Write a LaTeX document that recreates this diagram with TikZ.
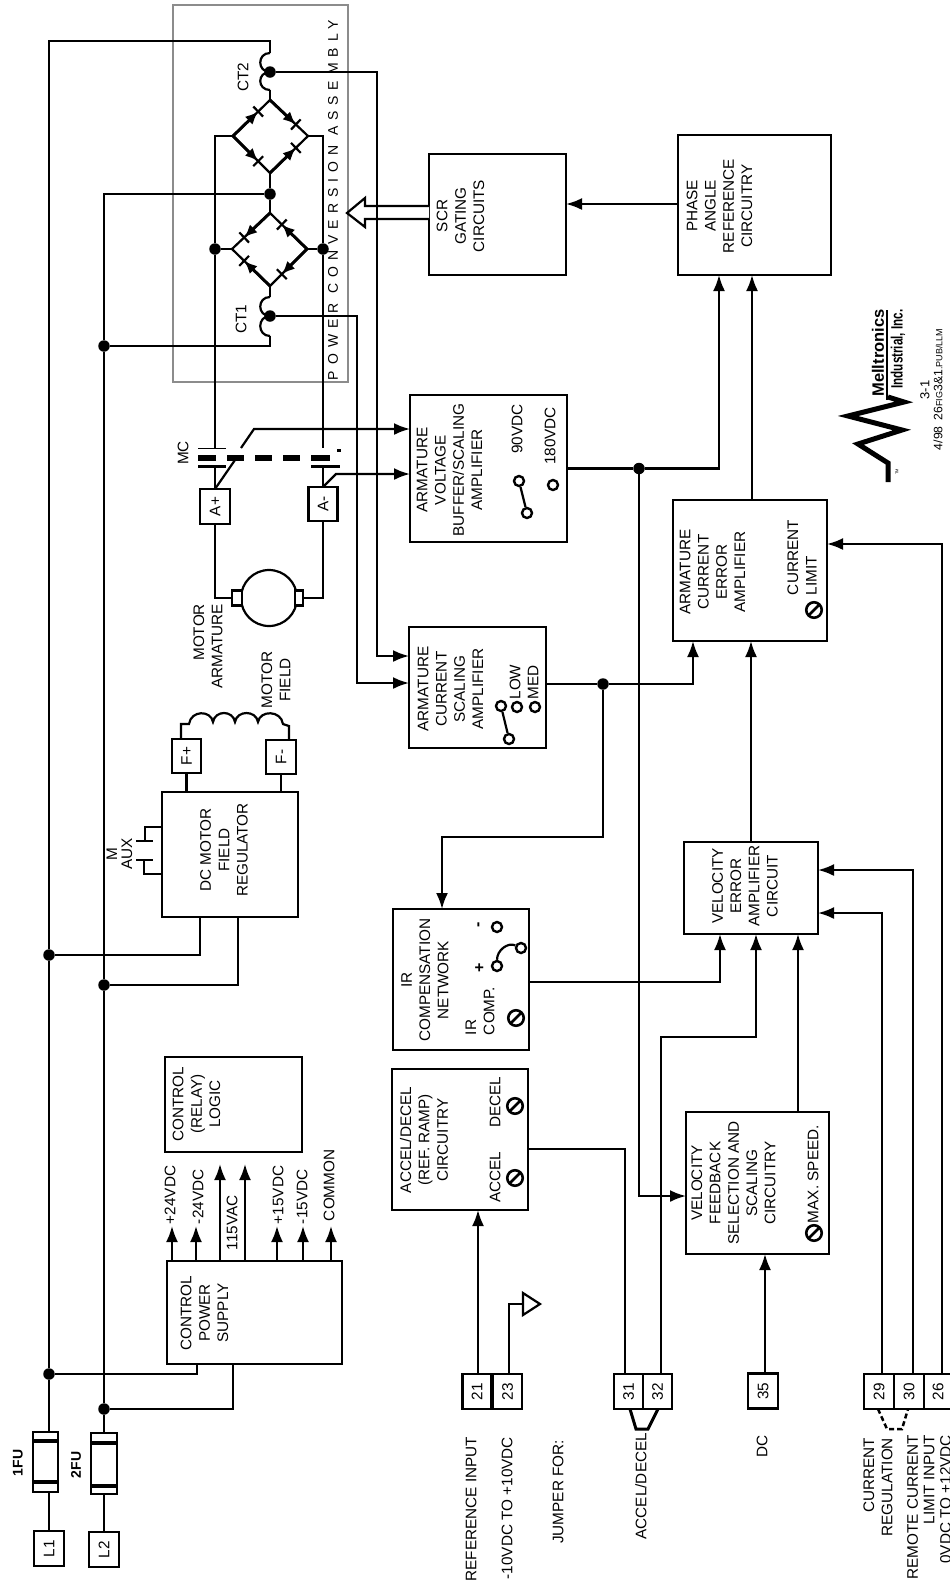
\documentclass[tikz,border=0pt]{standalone}
\usepackage{fontspec}
\setmainfont{Liberation Sans}
\newfontfamily\spacedfont[LetterSpace=42.5]{Liberation Sans}
\usetikzlibrary{arrows.meta, calc}

\tikzset{
  wire/.style={line width=2.2pt},
  arr/.style={line width=2.2pt, -{Latex[length=16pt,width=12pt]}},
  blk/.style={draw, line width=2.6pt, inner sep=0pt, outer sep=0pt},
  txt/.style={rotate=90, align=center, inner sep=0pt, outer sep=0pt, font=\fontsize{15.3}{18.3}\selectfont},
  term/.style={blk, minimum width=30pt, minimum height=35pt, fill=white, font=\fontsize{15.3}{18}\selectfont},
  jdot/.style={circle, fill=black, inner sep=0pt, minimum size=11.5pt},
  ring/.style={circle, draw, line width=2.4pt, fill=white, inner sep=0pt, minimum size=10pt},
  potm/.style={circle, draw, line width=2.6pt, inner sep=0pt, minimum size=15.5pt,
    path picture={\draw[line width=2.6pt] (path picture bounding box.north east) -- (path picture bounding box.south west);}},
}
\newcommand{\rt}[1]{\rotatebox{90}{#1}}
\newcommand{\scrleg}[2]{
  \draw[wire] (#1) -- (#2);
  \draw[line width=3pt, -{Latex[length=13pt,width=11pt]}] (#1) -- ($(#1)!0.68!(#2)$);
  \draw[wire] ($(#1)!0.68!(#2)!7pt!90:(#2)$) -- ($(#1)!0.68!(#2)!7pt!-90:(#2)$);
}

\begin{document}
\begin{tikzpicture}[x=1pt, y=-1pt]
  \useasboundingbox (0,0) rectangle (950,1591);

  % Power conversion assembly
  \draw[line width=2.5pt, color=black!45] (173,5) rectangle (348,382);
  \node[txt, anchor=west, font=\fontsize{14}{16}\spacedfont] (pcaText) at (333,380) {POWER CONVERSION ASSEMBLY};

  % Blocks
  \node[blk, minimum width=137pt, minimum height=121pt] (scrBox) at (497.5,214.5) {};
  \node[blk, minimum width=153pt, minimum height=140pt] (phase) at (754.5,205) {};
  \node[blk, minimum width=157pt, minimum height=147pt] (voltAmp) at (488.5,468.5) {};
  \node[blk, minimum width=137pt, minimum height=121pt] (curAmp) at (477.5,687.5) {};
  \node[blk, minimum width=154pt, minimum height=141pt] (errAmp) at (750,570.5) {};
  \node[blk, minimum width=134pt, minimum height=92pt] (velAmp) at (751,888) {};
  \node[blk, minimum width=136pt, minimum height=141pt] (irNet) at (461,979.5) {};
  \node[blk, minimum width=136pt, minimum height=141pt] (ramp) at (460,1139.5) {};
  \node[blk, minimum width=143pt, minimum height=142pt] (fdbk) at (757.5,1183) {};
  \node[blk, minimum width=137pt, minimum height=95pt] (logic) at (233.5,1104.5) {};
  \node[blk, minimum width=175pt, minimum height=103pt] (supply) at (254.5,1312.5) {};
  \node[blk, minimum width=136pt, minimum height=125pt] (regul) at (230,854.5) {};

  \node[txt] (scrText) at (460.5,216) {SCR\\GATING\\CIRCUITS};
  \node[txt] (phaseText) at (719.5,206) {PHASE\\ANGLE\\REFERENCE\\CIRCUITRY};
  \node[txt] (voltText) at (449.5,470) {ARMATURE\\VOLTAGE\\BUFFER/SCALING\\AMPLIFIER};
  \node[txt] (curText) at (450.5,689) {ARMATURE\\CURRENT\\SCALING\\AMPLIFIER};
  \node[txt] (errText) at (712.5,572) {ARMATURE\\CURRENT\\ERROR\\AMPLIFIER};
  \node[txt] (velText) at (745,886) {VELOCITY\\ERROR\\AMPLIFIER\\CIRCUIT};
  \node[txt] (irText) at (425,980) {IR\\COMPENSATION\\NETWORK};
  \node[txt] (rampText) at (424,1140) {ACCEL/DECEL\\(REF. RAMP)\\CIRCUITRY};
  \node[txt] (fdbkText) at (733.5,1183) {VELOCITY\\FEEDBACK\\SELECTION AND\\SCALING\\CIRCUITRY};
  \node[txt] (logicText) at (196.5,1104) {CONTROL\\(RELAY)\\LOGIC};
  \node[txt] (supplyText) at (204.5,1313) {CONTROL\\POWER\\SUPPLY};
  \node[txt] (regulText) at (224,850) {DC MOTOR\\FIELD\\REGULATOR};

  % Controls inside the blocks
  \node[txt] (lblNinety) at (517,429) {90VDC};
  \node[txt] (lblOneEighty) at (550,436) {180VDC};
  \node[ring] (vsA) at (519,481) {};
  \node[ring] (vsB) at (527,513) {};
  \node[ring] (vsC) at (553,485) {};
  \draw[wire] (vsA) -- (vsB);
  \node[txt] (lblLow) at (515,682) {LOW};
  \node[txt] (lblMed) at (533,682) {MED};
  \node[ring] (csA) at (501,706) {};
  \node[ring] (csB) at (509,739) {};
  \node[ring] (csC) at (517,707) {};
  \node[ring] (csD) at (535,707) {};
  \draw[wire] (csA) -- (csB);
  \node[txt, anchor=west, align=left] (lblLimit) at (802,595) {CURRENT\\LIMIT};
  \node[potm] (potLimit) at (814,610) {};
  \node[txt, anchor=west] (lblMax) at (813,1223) {MAX. SPEED.};
  \node[potm] (potMax) at (814,1233) {};
  \node[txt, anchor=west, align=left] (lblComp) at (480,1035) {IR\\COMP.};
  \node[potm] (potComp) at (516,1018) {};
  \node[txt, font=\fontsize{16}{18}\bfseries] (lblPlus) at (480,968) {+};
  \node[txt, font=\fontsize{16}{18}\bfseries] (lblMinus) at (480,925) {-};
  \node[ring] (irA) at (497,927) {};
  \node[ring] (irB) at (521,948) {};
  \node[ring] (irC) at (497,966) {};
  \draw[wire] (irC) .. controls (497,950) and (508,942) .. (irB);
  \node[txt] (lblAccel) at (495,1177) {ACCEL};
  \node[txt] (lblDecel) at (495,1102) {DECEL};
  \node[potm] (potAccel) at (515,1178) {};
  \node[potm] (potDecel) at (515,1106) {};

  % Main lines
  \node[term] (lineA) at (49,1548.5) {\rt{L1}};
  \node[term] (lineB) at (104,1549.5) {\rt{L2}};
  \node[jdot] (jMainA) at (49,1374) {};
  \node[jdot] (jMainB) at (104,1409) {};
  \node[jdot] (jFieldA) at (49,955) {};
  \node[jdot] (jFieldB) at (104,985) {};
  \node[jdot] (jCtOne) at (104,346) {};
  \coordinate (ctTwoTop) at (270,53);
  \coordinate (ctTwoBot) at (270,90);
  \coordinate (ctOneTop) at (270,297);
  \coordinate (ctOneBot) at (270,336);
  \node[jdot] (tapTwo) at (270,72) {};
  \node[jdot] (tapOne) at (270,316) {};
  \node[jdot] (jBridge) at (270,194) {};
  \draw[wire] (lineA.north) -- (jMainA) -- (jFieldA) -- (49,41) -| (ctTwoTop);
  \draw[wire] (lineB.north) -- (jMainB) -- (jFieldB) -- (jCtOne) |- (jBridge);
  \draw[wire] (jCtOne) -| (ctOneBot);
  \draw[wire] (jMainA) -| (supply.south -| 197,0);
  \draw[wire] (jMainB) -| (supply.south -| 233,0);
  \draw[wire] (jFieldA) -| (regul.south -| 200,0);
  \draw[wire] (jFieldB) -| (regul.south -| 238,0);

  % Fuses
  \node[blk, minimum width=25pt, minimum height=60pt, fill=white] (fuseA) at (45.5,1462) {};
  \node[blk, minimum width=26pt, minimum height=61pt, fill=white] (fuseB) at (104,1463.5) {};
  \draw[line width=3.5pt] (33,1441) -- (58,1441) (33,1482) -- (58,1482);
  \draw[line width=3.5pt] (91,1443) -- (117,1443) (91,1486) -- (117,1486);
  \node[txt, font=\fontsize{14}{16}\bfseries] (lblFuseA) at (18,1463) {1FU};
  \node[txt, font=\fontsize{14}{16}\bfseries] (lblFuseB) at (76,1465) {2FU};

  % Current transformers
  \draw[wire] (ctTwoTop) .. controls (257,53) and (257,72) .. (tapTwo.center) .. controls (257,72) and (257,90) .. (ctTwoBot);
  \draw[wire] (ctOneTop) .. controls (257,297) and (257,316) .. (tapOne.center) .. controls (257,316) and (257,336) .. (ctOneBot);
  \node[txt] (lblCtTwo) at (243,77) {CT2};
  \node[txt] (lblCtOne) at (241,319) {CT1};

  % SCR bridge
  \coordinate (brTopA) at (270,100);
  \coordinate (brLeftA) at (233,136);
  \coordinate (brRightA) at (308,136);
  \coordinate (brBotA) at (270,173);
  \coordinate (brTopB) at (270,213);
  \coordinate (brLeftB) at (232,249);
  \coordinate (brRightB) at (307,249);
  \coordinate (brBotB) at (270,286);
  \scrleg{brLeftA}{brTopA}
  \scrleg{brTopA}{brRightA}
  \scrleg{brLeftA}{brBotA}
  \scrleg{brBotA}{brRightA}
  \scrleg{brTopB}{brLeftB}
  \scrleg{brRightB}{brTopB}
  \scrleg{brBotB}{brLeftB}
  \scrleg{brRightB}{brBotB}
  \node[jdot] (jDcA) at (215,249) {};
  \node[jdot] (jDcB) at (323,249) {};
  \draw[wire] (ctTwoBot) -- (brTopA) (brBotA) -- (jBridge) -- (brTopB) (brBotB) -- (ctOneTop);
  \draw[wire] (brLeftB) -- (jDcA) (brRightB) -- (jDcB);

  % Contactor
  \coordinate (mcLeft) at (215,448);
  \coordinate (mcRight) at (323,448);
  \node[term, minimum width=30pt, minimum height=35pt] (aPlus) at (215,506.5) {\rt{A+}};
  \node[term, minimum width=29pt, minimum height=34pt] (aMinus) at (323,504) {\rt{A-}};
  \draw[wire] (brLeftA) -| (jDcA) -- (mcLeft);
  \draw[wire] (brRightA) -| (jDcB) -- (mcRight);
  \draw[line width=1pt] (198,448) -- (226,448);
  \foreach \a/\b in {198/216, 227/244, 255/272, 283/300, 311/330}
    \draw[line width=6pt] (\a,458) -- (\b,458);
  \draw[line width=3pt] (198,466) -- (226,466) (311,466) -- (340,466) (337,450) -- (341,450);
  \draw[wire] (215,466) -- (aPlus.north);
  \draw[wire] (323,466) -- (aMinus.north);
  \node[txt] (lblMc) at (183,453) {MC};
  \coordinate (mcA) at (235,460);
  \coordinate (mcB) at (241,448);
  \coordinate (mcC) at (254,429);
  \coordinate (mcD) at (336,474);
  \coordinate (voltInA) at (410,429);
  \coordinate (voltInB) at (410,474);
  \draw[wire] (aPlus.north) -- (mcA);
  \draw[arr] (mcB) -- (mcC) -- (voltInA);
  \draw[arr] (aMinus.north) -- (mcD) -- (voltInB);

  % Motor armature
  \node[circle, draw, line width=2.2pt, inner sep=0pt, minimum size=56pt] (motor) at (269,598) {};
  \node[blk, line width=2.2pt, minimum width=10pt, minimum height=15pt, fill=white] (brushL) at (237,598) {};
  \node[blk, line width=2.2pt, minimum width=8pt, minimum height=15pt, fill=white] (brushR) at (299,598) {};
  \draw[wire] (aPlus.south) |- (brushL.west);
  \draw[wire] (aMinus.south) |- (brushR.east);
  \node[txt, anchor=east, align=right] (lblArm) at (208,604) {MOTOR\\ARMATURE};
  \node[txt] (lblField) at (276,680) {MOTOR\\FIELD};

  % Motor field
  \node[term, minimum width=29pt, minimum height=34pt] (fPlus) at (186.5,756) {\rt{F+}};
  \node[term, minimum width=30pt, minimum height=34pt] (fMinus) at (281,757) {\rt{F-}};
  \draw[wire] (fPlus.south) -- (fPlus.south |- regul.north);
  \draw[wire] (fMinus.south) -- (fMinus.south |- regul.north);
  \draw[wire] (181,739) -- (181,724) -- (189,724)
    .. controls (191,710) and (211,710) .. (213,722)
    .. controls (215,710) and (233,710) .. (235,722)
    .. controls (237,710) and (256,710) .. (258,722)
    .. controls (260,710) and (281,710) .. (283,724)
    -- (289,726) -- (289,740);
  \draw[wire] (regul.west |- 0,827) -- (145,827) -- (145,841) (136,841) -- (153,841);
  \draw[wire] (regul.west |- 0,874) -- (144,874) -- (144,860) (136,860) -- (153,860);
  \node[txt, font=\fontsize{15.3}{15}\selectfont] (lblAux) at (119.5,854) {M\\AUX};

  % Control power supply
  \foreach \n/\px/\tip in {a/172/1226, b/196/1226, c/220/1164, d/245/1164, e/277/1226, f/303/1226, g/331/1226}
    \draw[arr] (supply.north -| \px,0) -- (\px,\tip);
  \node[txt, anchor=west] (lblPosA) at (170,1224) {+24VDC};
  \node[txt, anchor=west] (lblNegA) at (198,1224) {-24VDC};
  \node[txt, anchor=west] (lblAc) at (232,1250) {115VAC};
  \node[txt, anchor=west] (lblPosB) at (278,1224) {+15VDC};
  \node[txt, anchor=west] (lblNegB) at (302,1224) {-15VDC};
  \node[txt, anchor=west] (lblCom) at (329,1221) {COMMON};

  % Terminals
  \node[term, minimum width=29pt] (tA) at (477,1391.5) {\rt{21}};
  \node[term, minimum width=29pt] (tB) at (507.5,1391.5) {\rt{23}};
  \node[term, minimum width=29pt] (tC) at (628.5,1391.5) {\rt{31}};
  \node[term, minimum width=29pt] (tD) at (657.5,1391.5) {\rt{32}};
  \node[term] (tE) at (763,1391) {\rt{35}};
  \node[term] (tF) at (879,1391.5) {\rt{29}};
  \node[term] (tG) at (909,1391.5) {\rt{30}};
  \node[term, minimum width=28pt] (tH) at (938,1391.5) {\rt{26}};
  \draw[line width=3pt] (630,1409) -- (636,1429) -- (648,1429) -- (658,1409);
  \draw[line width=2.5pt, dash pattern=on 5pt off 3pt] (878,1409) -- (887,1429) -- (902,1429) -- (908,1409);
  \node[txt, anchor=east] (lblRef) at (471,1437) {REFERENCE INPUT};
  \node[txt, anchor=east] (lblRange) at (507,1437) {-10VDC TO +10VDC};
  \node[txt, anchor=east] (lblJump) at (558,1440) {JUMPER FOR:};
  \node[txt, anchor=east] (lblDecelIn) at (641,1433) {ACCEL/DECEL};
  \node[txt, anchor=east] (lblDc) at (762,1435) {DC};
  \node[txt, anchor=east, align=right] (lblReg) at (878,1438) {CURRENT\\REGULATION};
  \node[txt, anchor=east, align=right, font=\fontsize{15.3}{16.5}\selectfont] (lblRemote) at (929,1435) {REMOTE CURRENT\\LIMIT INPUT\\0VDC TO +12VDC};

  % Signal flow
  \coordinate (scrIn) at (566,204);
  \draw[arr] (phase.west |- scrIn) -- (scrIn);
  \draw[wire, fill=white] (429,206) -- (365,206) -- (365,198) -- (347,213) -- (365,227) -- (365,219) -- (429,219);
  \coordinate (bendA) at (377,72);
  \coordinate (bendB) at (357,316);
  \coordinate (curInA) at (409,656);
  \coordinate (curInB) at (409,683);
  \draw[arr] (tapTwo) -- (bendA) |- (curInA);
  \draw[arr] (tapOne) -- (bendB) |- (curInB);
  \node[jdot] (jVolt) at (639,468.5) {};
  \node[jdot] (jCur) at (603,684) {};
  \coordinate (curOut) at (546,684);
  \coordinate (phaseInA) at (719,275);
  \coordinate (phaseInB) at (752,275);
  \coordinate (errInA) at (693,641);
  \coordinate (errInB) at (751,641);
  \coordinate (errInC) at (827,544);
  \coordinate (fdbkIn) at (686,1196);
  \coordinate (irBend) at (442,837);
  \coordinate (irIn) at (442,909);
  \draw[wire] (voltAmp.east) -- (jVolt);
  \draw[arr] (jVolt) -| (phaseInA);
  \draw[arr] (jVolt) |- (fdbkIn);
  \draw[arr] (errAmp.north -| phaseInB) -- (phaseInB);
  \draw[wire] (curOut) -- (jCur);
  \draw[arr] (jCur) -| (errInA);
  \draw[arr] (jCur) |- (irBend) -- (irIn);
  \draw[arr] (velAmp.north) -- (errInB);
  \coordinate (irOut) at (529,982);
  \coordinate (velInA) at (720,934);
  \coordinate (velInB) at (756,934);
  \coordinate (velInC) at (798,934);
  \coordinate (velInD) at (818,870);
  \coordinate (velInE) at (818,913);
  \coordinate (velBend) at (756,1037);
  \coordinate (rampOut) at (528,1149);
  \draw[arr] (irOut) -| (velInA);
  \draw[wire] (rampOut) -| (tC.north -| 625,0);
  \draw[arr] (tD.north -| 661,0) |- (velBend) -- (velInB);
  \draw[arr] (fdbk.north -| velInC) -- (velInC);
  \draw[arr] (tE.north -| 765,0) -- (fdbk.south -| 765,0);
  \draw[arr] (tF.north -| 882,0) |- (velInE);
  \draw[arr] (tG.north -| 913,0) |- (velInD);
  \draw[arr] (tH.north -| 942,0) |- (errInC);
  \draw[arr] (tA.north -| 478,0) -- (ramp.south -| 478,0);
  \draw[wire] (tB.north -| 509,0) |- (523,1304);
  \draw[wire] (523,1293) -- (523,1315) -- (540,1304) -- cycle;

  % Logo and drawing number
  \draw[line width=5pt, line join=miter] (888,482) -- (888,463) -- (858,444) -- (902,430) -- (848,416) -- (904,402) -- (888,397);
  \draw[line width=2pt] (887,310) -- (887,400);
  \node[txt, font=\fontsize{16.5}{18}\bfseries] (logoName) at (878,353) {Melltronics};
  \node[txt, yscale=1.4, font=\fontsize{11.7}{14}\bfseries] (logoSub) at (898,349) {Industrial, Inc.};
  \node[txt, font=\fontsize{4}{5}\selectfont] (logoMark) at (897,472) {TM};
  \node[txt, font=\fontsize{13}{15}\selectfont] (lblSheet) at (925,390) {3-1};
  \node[txt, anchor=west, font=\fontsize{12.2}{14}\selectfont] (lblDraw) at (938,450) {4/98\hspace{6pt}26{\fontsize{9}{9}\selectfont FIG}3\&1{\fontsize{9}{9}\selectfont .PUB/LLM}};
\end{tikzpicture}
\end{document}
